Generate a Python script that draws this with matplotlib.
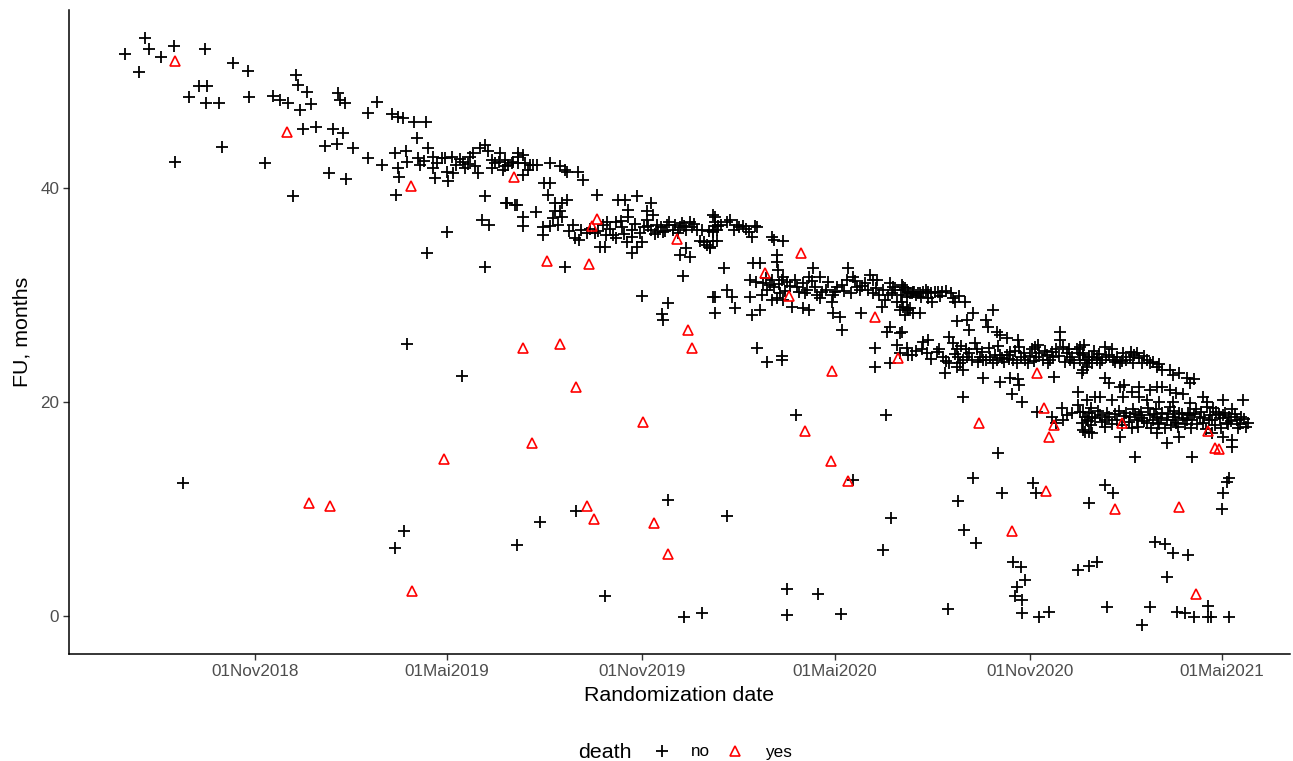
import datetime as dt
import matplotlib
matplotlib.use("Agg")
import matplotlib.pyplot as plt
import matplotlib.dates as mdates
from matplotlib.lines import Line2D

plt.rcParams['font.family'] = ['Liberation Sans', 'DejaVu Sans']

# randomization date given as days after 01 Nov 2018, follow-up in months
base_date = dt.datetime(2018, 11, 1)

no_points = [
    (-123, 52.5), (-109, 50.8), (-104, 54.0), (-100, 53.0), (-89, 52.2), (-76, 53.3), (-75, 42.4), (-68, 12.4),
    (-62, 48.5), (-53, 49.5), (-45, 49.5), (-47, 53.0), (-46, 47.9), (-34, 47.9), (-31, 43.8), (-21, 51.7),
    (-7, 50.9), (-6, 48.5), (9, 42.3), (17, 48.6), (24, 48.2), (31, 47.9), (39, 50.5), (41, 49.6), (49, 49.0),
    (42, 47.3), (53, 47.8), (45, 45.5), (58, 45.7), (36, 39.2),
    (78, 48.9), (80, 48.2), (85, 47.9), (115, 48.0), (107, 47.0), (129, 46.9), (135, 46.6), (140, 46.5),
    (150, 46.2), (161, 46.2), (74, 45.5), (83, 45.1), (153, 44.7), (66, 43.9), (77, 44.1), (92, 43.7),
    (163, 43.7), (107, 42.8), (120, 42.1), (132, 43.3), (142, 43.4), (135, 41.9), (143, 42.4), (154, 42.8),
    (156, 42.1), (168, 42.9), (176, 42.8), (179, 42.8), (186, 42.9), (168, 41.9), (170, 40.9), (181, 41.5),
    (187, 41.4), (182, 40.6), (196, 42.4), (198, 41.9), (203, 42.9), (206, 43.3), (212, 43.7), (217, 44.0),
    (220, 43.4), (210, 41.4), (224, 42.6), (224, 41.9), (231, 43.3), (230, 42.4), (236, 42.6), (239, 42.1),
    (243, 42.4), (248, 42.3), (248, 43.3), (70, 41.4), (86, 40.8), (136, 41.0), (133, 39.3), (217, 39.2),
    (237, 38.6), (245, 38.4), (214, 37.0), (221, 36.5), (181, 35.9), (162, 33.9),
    (217, 32.6), (143, 25.4), (195, 22.4), (141, 7.9), (132, 6.4), (247, 6.6),
    (236, 42.0), (242, 42.3), (248, 42.9), (253, 43.1), (255, 42.3), (259, 42.1), (262, 42.1), (266, 42.1),
    (278, 42.3), (288, 42.0), (292, 41.7), (294, 41.5), (305, 41.5), (309, 40.7), (253, 41.2), (273, 40.5),
    (278, 40.5), (276, 39.3), (323, 39.3), (342, 38.9), (349, 38.9), (360, 39.2), (374, 38.6), (238, 38.6),
    (247, 38.4), (253, 37.3), (253, 36.4), (265, 37.7), (283, 38.6), (290, 38.6), (294, 38.9), (283, 37.8),
    (288, 37.8), (281, 37.2), (278, 36.4), (286, 36.5), (290, 37.3), (272, 36.3), (272, 35.6), (300, 36.5),
    (308, 36.1), (306, 35.1), (313, 35.8), (321, 35.8), (328, 36.5), (331, 35.6), (330, 34.5), (325, 34.5),
    (332, 36.8), (341, 36.8), (346, 36.3), (341, 35.3), (352, 37.9), (352, 37.3), (356, 36.1), (356, 35.4),
    (351, 34.9), (356, 33.9), (360, 34.5), (363, 35.8), (365, 34.9), (370, 37.8), (370, 37.0), (375, 37.5),
    (371, 36.4), (374, 36.1), (379, 36.5), (380, 35.9), (385, 35.9), (389, 36.5), (391, 36.8), (394, 36.1),
    (401, 36.3), (405, 36.4), (407, 36.1), (410, 36.8), (412, 36.3), (417, 36.1), (420, 35.0), (426, 34.7),
    (429, 34.5), (432, 35.0), (432, 37.5), (432, 36.1), (437, 36.4), (407, 34.4), (401, 33.7), (410, 33.5),
    (404, 31.8), (292, 32.6), (365, 29.9), (390, 29.2), (384, 28.2), (432, 29.8), (434, 28.3),
    (385, 27.7), (390, 10.8), (303, 9.8), (269, 8.8), (330, 1.9), (405, -0.1), (422, 0.3),
    (434, 37.3), (434, 36.8), (434, 36.4), (432, 35.9), (436, 36.1), (448, 37.0), (455, 36.5), (457, 36.3),
    (460, 36.4), (472, 36.4), (474, 36.3), (424, 34.9), (429, 34.4), (436, 35.0), (469, 35.4), (488, 35.4),
    (490, 35.1), (498, 35.0), (492, 33.7), (492, 33.1), (493, 32.3), (470, 33.0), (476, 33.0), (442, 32.5),
    (467, 31.4), (473, 31.2), (479, 31.1), (483, 30.5), (488, 31.4), (490, 30.7), (497, 31.4), (495, 30.2),
    (498, 31.7), (502, 31.2), (509, 31.4), (511, 30.7), (517, 31.1), (521, 30.5), (523, 31.7), (526, 32.5),
    (533, 31.7), (528, 30.7), (434, 29.8), (445, 30.5), (450, 29.8), (467, 29.8), (478, 30.0), (492, 29.7),
    (488, 29.5), (498, 29.5), (453, 28.8), (469, 28.1), (476, 28.6), (507, 28.9), (517, 28.8), (523, 28.6),
    (530, 30.0), (533, 29.7), (539, 30.5), (545, 30.0), (544, 29.3), (545, 28.3), (552, 27.9), (554, 26.7),
    (549, 30.7), (554, 30.9), (558, 31.4), (559, 32.5), (564, 31.7), (568, 30.7), (571, 30.5), (575, 31.1),
    (580, 31.9), (583, 31.4), (583, 30.2), (589, 30.0), (587, 31.4), (591, 28.9), (594, 29.5), (599, 31.1),
    (601, 30.2), (602, 30.7), (606, 29.3), (611, 30.7), (615, 29.8), (618, 30.2), (621, 30.3), (624, 30.0),
    (627, 30.2), (608, 28.6), (611, 28.9), (616, 28.6), (572, 28.3), (599, 27.0), (596, 26.5), (608, 26.4),
    (585, 25.0), (606, 25.3), (608, 24.6), (616, 24.4), (474, 25.0), (497, 24.3),
    (483, 23.7), (497, 23.9), (585, 23.3), (599, 23.6), (510, 18.8), (595, 18.8), (564, 12.7), (445, 9.3),
    (600, 9.2), (592, 6.2), (502, 2.5), (531, 2.1), (502, 0.1), (553, 0.2),
    (610, 30.9), (611, 30.5), (616, 30.3), (620, 30.2), (622, 30.3), (625, 30.2), (630, 30.3), (635, 30.3),
    (638, 30.2), (641, 30.3), (644, 30.3), (648, 30.3), (635, 29.7), (639, 29.3), (657, 30.2), (658, 29.7),
    (660, 29.3), (670, 29.3), (610, 29.3), (615, 28.8), (618, 28.8), (621, 28.3), (627, 28.3), (613, 28.1),
    (677, 28.3), (696, 28.6), (662, 27.6), (672, 27.7), (690, 27.7), (674, 26.7), (691, 27.0), (700, 26.5),
    (703, 26.3), (709, 26.0), (610, 26.5),
    (630, 25.6), (635, 25.8), (629, 24.9), (634, 24.6), (620, 24.4), (643, 24.7), (649, 24.2), (655, 26.1),
    (658, 25.5), (662, 24.9), (663, 24.2), (665, 23.6), (668, 23.9), (671, 24.9), (672, 24.2), (676, 23.9),
    (679, 25.5), (681, 24.9), (684, 24.2), (687, 23.9), (690, 23.9), (693, 24.2), (696, 23.6), (700, 23.9),
    (703, 24.4), (705, 24.1), (709, 24.4), (712, 24.7), (715, 23.9), (719, 23.6), (720, 25.8), (721, 25.1),
    (723, 24.2), (726, 23.9), (729, 23.6), (733, 24.9), (736, 25.1), (737, 24.2), (740, 24.6), (743, 23.9),
    (747, 24.4), (750, 23.9), (753, 24.2), (756, 24.9), (759, 25.8), (759, 26.5), (762, 25.1), (766, 24.6),
    (769, 23.9), (771, 24.2), (775, 24.9), (778, 23.9), (781, 24.4), (785, 23.6), (787, 23.9), (790, 24.2),
    (794, 23.9), (655, 23.6), (662, 23.3), (651, 22.7), (668, 23.0), (687, 22.2), (703, 21.9), (712, 22.2),
    (720, 22.1), (721, 21.6), (754, 22.3), (668, 20.5), (714, 20.7), (724, 20.0), (776, 20.9), (776, 19.7),
    (792, 20.5), (789, 19.4), (761, 19.4), (766, 18.8), (771, 19.0), (781, 19.1), (785, 18.3), (790, 18.6),
    (783, 17.2), (787, 17.2), (738, 19.1), (752, 18.6), (756, 18.0), (762, 18.3),
    (701, 15.2), (677, 12.9), (734, 12.4), (737, 11.5), (705, 11.5), (663, 10.7), (787, 10.6), (669, 8.0),
    (680, 6.8), (715, 5.0), (723, 4.6), (726, 3.4), (719, 2.7), (717, 1.9), (724, 1.5), (654, 0.7),
    (724, 0.3), (740, -0.1), (749, 0.4), (776, 4.3), (787, 4.7), (794, 5.0),
    (778, 25.1), (781, 24.6), (783, 23.9), (785, 23.3), (780, 22.7), (787, 24.2), (790, 23.6), (794, 24.1),
    (797, 23.6), (802, 25.1), (803, 24.2), (808, 24.9), (809, 23.9), (813, 24.2), (816, 23.6), (819, 24.6),
    (822, 23.9), (825, 24.2), (828, 23.6), (832, 24.6), (834, 24.1), (837, 23.6), (841, 23.9), (844, 23.6),
    (847, 23.7), (851, 23.3), (853, 23.5), (856, 23.0), (863, 23.0), (866, 22.5), (872, 22.7), (879, 22.2),
    (882, 21.8), (886, 22.1), (781, 23.0),
    (802, 22.2), (806, 21.8), (816, 21.4), (820, 21.6), (827, 20.9), (834, 21.4), (844, 21.1), (851, 21.4),
    (856, 21.4), (863, 21.1), (869, 20.8), (875, 20.7), (894, 20.5), (913, 20.2), (932, 20.2), (785, 20.2),
    (797, 20.5), (808, 20.2), (819, 20.5), (834, 20.5), (841, 20.2), (853, 20.0), (866, 20.0), (882, 19.9),
    (898, 20.0),
    (778, 19.1), (783, 18.6), (787, 19.0), (792, 18.5), (797, 18.8), (802, 18.3), (802, 17.7), (806, 18.6),
    (813, 18.3), (822, 19.0), (825, 18.6), (828, 19.3), (832, 18.3), (834, 18.8), (837, 18.5), (841, 18.0),
    (844, 18.8), (847, 18.3), (851, 18.6), (853, 17.9), (856, 19.0), (860, 18.3), (863, 19.5), (866, 18.6),
    (869, 18.0), (872, 19.0), (875, 18.5), (879, 18.3), (882, 18.8), (884, 18.3), (888, 19.3), (891, 18.6),
    (894, 18.0), (898, 19.5), (901, 18.8), (903, 18.3), (907, 19.1), (910, 18.5), (913, 18.8), (917, 18.0),
    (919, 18.6), (922, 19.3), (926, 18.3), (929, 17.9), (935, 17.7), (781, 17.4), (790, 17.1), (816, 16.7),
    (851, 17.1), (860, 16.2), (872, 16.7), (903, 17.1), (913, 16.7), (922, 16.4), (922, 15.8), (830, 14.9),
    (884, 14.9),
    (802, 12.2), (809, 11.5), (919, 12.9), (917, 12.5), (913, 11.5), (912, 10.0), (849, 6.9), (858, 6.7),
    (866, 5.9), (880, 5.7), (860, 3.6), (804, 0.8), (844, 0.8), (837, -0.8), (870, 0.4), (877, 0.3),
    (886, -0.1), (899, 0.9), (899, -0.1), (902, -0.1), (919, -0.1),
]

# extra patients inside the crowded bands, where markers overlap
no_points_dense = [
    (159, 42.5), (172, 42.3), (190, 42.1), (193, 42.7), (201, 42.2), (208, 42.0), (226, 42.3), (234, 41.7),
    (258, 41.7),
    (296, 36.0), (302, 35.3), (316, 36.2), (324, 36.0), (335, 36.2), (338, 35.6), (345, 36.9), (348, 35.7),
    (358, 36.6), (367, 36.3), (377, 35.7), (383, 36.3), (387, 36.0), (396, 36.5), (399, 35.8), (403, 36.7),
    (414, 36.6), (422, 36.1), (428, 36.0), (440, 36.5), (445, 36.8), (452, 36.1), (463, 36.2), (466, 35.9),
    (482, 31.6), (486, 30.9), (494, 31.0), (500, 30.4), (505, 30.8), (513, 30.3), (519, 30.2), (525, 31.3),
    (535, 30.3), (541, 31.2), (547, 30.3), (556, 30.4), (562, 30.2), (566, 31.3), (573, 30.8), (578, 30.5),
    (586, 30.6), (592, 30.5), (597, 30.0), (604, 30.5), (609, 30.0), (613, 30.6), (628, 29.8), (633, 30.5),
    (646, 29.9), (652, 30.4), (664, 29.9),
    (615, 25.0), (624, 24.8), (638, 24.0), (645, 24.9), (652, 23.8), (660, 24.5), (666, 25.2), (674, 24.6),
    (682, 23.7), (686, 24.7), (692, 25.0), (698, 24.4), (701, 25.2), (707, 23.7), (711, 24.0), (717, 24.8),
    (725, 24.6), (731, 24.3), (735, 23.8), (739, 25.3), (745, 24.8), (748, 23.6), (752, 24.7), (758, 24.3),
    (764, 23.7), (768, 24.9), (773, 23.6), (777, 24.6), (782, 25.3), (791, 24.8), (796, 24.5), (799, 23.9),
    (806, 24.4), (811, 23.7), (818, 23.8), (826, 24.7), (829, 24.4), (839, 24.3),
    (780, 18.0), (786, 18.2), (789, 17.8), (795, 19.2), (799, 18.1), (804, 19.0), (808, 17.9), (811, 18.9),
    (815, 19.2), (818, 17.8), (820, 18.7), (824, 18.1), (827, 17.6), (830, 18.9), (833, 17.7), (836, 19.1),
    (839, 18.2), (842, 19.4), (845, 17.6), (848, 18.9), (850, 19.3), (852, 18.0), (855, 18.5), (858, 17.6),
    (861, 18.9), (864, 17.8), (867, 19.2), (868, 18.3), (871, 17.7), (874, 18.9), (877, 17.9), (880, 19.0),
    (883, 17.6), (886, 18.9), (889, 17.9), (892, 19.1), (895, 18.5), (897, 17.5), (900, 18.3), (904, 19.4),
    (906, 17.8), (909, 18.9), (911, 17.6), (915, 19.0), (918, 17.9), (921, 18.2), (924, 18.9), (927, 17.6),
    (930, 18.6), (933, 18.4), (937, 18.0),
]

yes_points = [
    (-75, 51.9), (30, 45.2), (51, 10.6), (71, 10.3), (147, 40.2), (148, 2.3), (178, 14.7), (244, 41.0),
    (253, 25.0), (275, 33.2), (315, 32.9), (288, 25.4), (303, 21.4), (261, 16.2), (313, 10.3), (320, 9.1),
    (323, 37.1), (318, 36.4), (366, 18.1), (376, 8.7), (390, 5.8), (398, 35.2), (408, 26.7), (412, 25.0),
    (481, 32.0), (504, 29.9), (515, 33.9), (519, 17.3), (543, 14.5), (559, 12.6), (544, 22.9), (585, 27.9),
    (607, 24.1), (683, 18.0), (714, 7.9), (738, 22.7), (744, 19.4), (746, 11.7), (749, 16.7), (754, 17.8),
    (811, 10.0), (818, 18.0), (872, 10.2), (888, 2.1), (899, 17.3), (906, 15.7), (909, 15.6),
]

tick_days = [0, 181, 365, 547, 731, 912]
tick_labels = ["01Nov2018", "01Mai2019", "01Nov2019", "01Mai2020", "01Nov2020", "01Mai2021"]
y_ticks = [0, 20, 40]


def to_num(days):
    return mdates.date2num(base_date) + days


all_no = no_points + no_points_dense

fig = plt.figure(figsize=(12.93, 7.61), dpi=100)
ax = fig.add_axes([0.0534, 0.1406, 0.944, 0.846])

ax.plot([to_num(d) for d, _ in all_no], [f for _, f in all_no],
        linestyle='none', marker='+', ms=8.6, mew=1.3, color='black')
ax.plot([to_num(d) for d, _ in yes_points], [f for _, f in yes_points],
        linestyle='none', marker='^', ms=7.8, mfc='none', mec='red', mew=1.2)

ax.set_xlim(to_num(-175.4), to_num(976))
ax.set_ylim(-3.55, 56.6)
ax.set_xticks([to_num(d) for d in tick_days])
ax.set_xticklabels(tick_labels)
ax.set_yticks(y_ticks)

for side in ['top', 'right']:
    ax.spines[side].set_visible(False)
for side in ['left', 'bottom']:
    ax.spines[side].set_linewidth(1.1)
ax.tick_params(direction='out', length=4, width=1, color='#333333',
               labelcolor='#4D4D4D', labelsize=12.3, pad=3)

ax.set_xlabel('Randomization date', fontsize=15.4, labelpad=5)
ax.set_ylabel('FU, months', fontsize=15.4, labelpad=6)

# legend at the bottom
fig.text(578 / 1293, 1 - 752 / 761, 'death', fontsize=15.4, ha='left', va='center')
handles = [Line2D([], [], linestyle='none', marker='+', ms=8.6, mew=1.3, color='black'),
           Line2D([], [], linestyle='none', marker='^', ms=7.8, mfc='none', mec='red', mew=1.2)]
fig.legend(handles, ['no', 'yes'], loc='center left', bbox_to_anchor=(649 / 1293, 1 - 752 / 761),
           ncol=2, frameon=False, fontsize=12.3, handlelength=1.5, handletextpad=0.95,
           columnspacing=0.75, borderaxespad=0, borderpad=0)

fig.savefig('out.png', dpi=100)
